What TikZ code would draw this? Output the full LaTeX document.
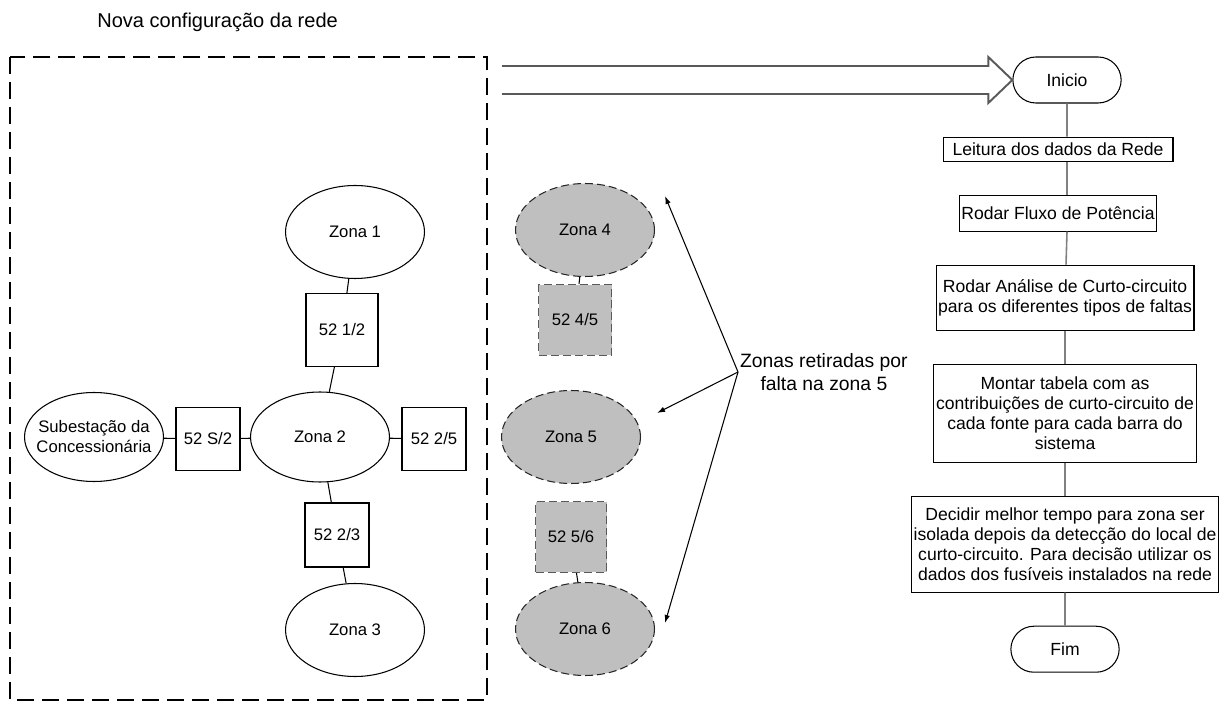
\documentclass[tikz,border=0pt]{standalone}
\usepackage{fontspec}
\setmainfont{Liberation Sans}
\usepackage{tikz}
\usetikzlibrary{positioning,arrows.meta,shapes.geometric,shapes.misc,calc}

\begin{document}
\begin{tikzpicture}[
x=0.02cm, y=-0.02cm,
node distance=0.66cm,
font=\fontsize{9.5}{11.4}\selectfont,
zone/.style={draw, ellipse, inner sep=0pt, minimum width=2.78cm, minimum height=1.86cm, line width=0.6pt},
breaker/.style={draw, rectangle, inner sep=0pt, minimum width=1.28cm, minimum height=1.26cm, line width=0.6pt},
offzone/.style={zone, fill=black!25, draw=black!85, dash pattern=on 0.16cm off 0.08cm},
offbreaker/.style={breaker, fill=black!25, draw=black!65, dash pattern=on 0.16cm off 0.08cm},
stepbox/.style={draw, rectangle, align=center, inner sep=1pt, line width=0.6pt, font=\fontsize{10}{11.4}\selectfont},
terminal/.style={draw, rounded rectangle, minimum width=2.4cm, minimum height=0.92cm, line width=0.6pt, font=\fontsize{10}{11.4}\selectfont},
flow/.style={draw=black!50, line width=0.9pt},
link/.style={draw, line width=0.6pt},
pointer/.style={-{Latex[length=1.6mm,width=1.1mm]}, line width=0.6pt},
bigarrow/.style={draw=black!65, line width=1.1pt, line join=miter}
]
\useasboundingbox (0,0) rectangle (1223,705);

\node[anchor=west, inner sep=0pt, font=\fontsize{11.4}{13}\selectfont] (title) at (97,22) {Nova configuração da rede};
\draw[line width=0.6pt, dash pattern=on 0.34cm off 0.16cm] (10,57) rectangle (487,700);

\node[zone] (zona1) at (355,232) {Zona 1};
\node[breaker, minimum width=1.44cm, minimum height=1.46cm] (cb12) at (342,330) {52 1/2};
\node[zone, minimum height=1.8cm] (zona2) at (320,437) {Zona 2};
\node[zone, minimum height=1.78cm, align=center, inner xsep=-12pt] (subest) at (94,437) {Subestação da\\Concessionária};
\node[breaker] (cbs2) at (208,439) {52 S/2};
\node[breaker] (cb25) at (434,439) {52 2/5};
\node[breaker, minimum height=1.28cm] (cb23) at (337,535) {52 2/3};
\node[zone] (zona3) at (355,630) {Zona 3};

\draw[link] (zona1) -- (cb12);
\draw[link] (cb12) -- (zona2);
\draw[link] (subest) -- (cbs2);
\draw[link] (cbs2) -- (zona2);
\draw[link] (zona2) -- (cb25);
\draw[link] (zona2) -- (cb23);
\draw[link] (cb23) -- (zona3);

\node[offzone] (zona4) at (585,230) {Zona 4};
\node[offbreaker, minimum width=1.46cm, minimum height=1.42cm] (cb45) at (575,320) {52 4/5};
\node[offzone] (zona5) at (571,437) {Zona 5};
\node[offbreaker, minimum width=1.42cm, minimum height=1.42cm] (cb56) at (571,537) {52 5/6};
\node[offzone] (zona6) at (585,629) {Zona 6};

\draw[link] (zona4) -- (cb45);
\draw[link] (cb56) -- (zona6);

\node[anchor=west, align=center, inner sep=1pt, font=\fontsize{11}{13}\selectfont] (removed) at (738,372) {Zonas retiradas por\\falta na zona 5};
\coordinate (t4) at (665,196);
\coordinate (t5) at (657,413);
\coordinate (t6) at (665,623);
\draw[pointer] (removed.west) -- (t4);
\draw[pointer] (removed.west) -- (t5);
\draw[pointer] (removed.west) -- (t6);

\node[terminal] (inicio) at (1067,80) {Inicio};
\node[stepbox, below=of inicio, xshift=-0.18cm, minimum width=4.6cm, minimum height=0.48cm] (leitura) {Leitura dos dados da Rede};
\node[stepbox, below=of leitura, minimum width=3.5cm, minimum height=0.72cm] (fluxo) {Rodar Fluxo de Potência};
\node[stepbox, below=of fluxo, xshift=0.14cm, minimum width=5.16cm, minimum height=1.3cm] (analise) {Rodar Análise de Curto-circuito\\para os diferentes tipos de faltas};
\node[stepbox, below=of analise, minimum width=5.26cm, minimum height=1.96cm] (tabela) {Montar tabela com as\\contribuições de curto-circuito de\\cada fonte para cada barra do\\sistema};
\node[stepbox, below=of tabela, minimum width=6.02cm, minimum height=1.92cm] (decidir) {Decidir melhor tempo para zona ser\\isolada depois da detecção do local de\\curto-circuito. Para decisão utilizar os\\dados dos fusíveis instalados na rede};
\node[terminal, below=of decidir] (fim) {Fim};

\draw[flow] (inicio) -- (inicio |- leitura.north);
\draw[flow] (inicio |- leitura.south) -- (inicio |- fluxo.north);
\draw[flow] (inicio |- fluxo.south) -- (analise);
\draw[flow] (analise) -- (tabela);
\draw[flow] (tabela) -- (decidir);
\draw[flow] (decidir) -- (fim);

\coordinate (netout) at (502,80);
\draw[bigarrow] ($(netout)+(0,-14)$) -- ($(inicio.west)+(-24,-14)$) -- ($(inicio.west)+(-24,-23)$) -- (inicio.west)
  -- ($(inicio.west)+(-24,23)$) -- ($(inicio.west)+(-24,14)$) -- ($(netout)+(0,14)$);
\end{tikzpicture}
\end{document}
